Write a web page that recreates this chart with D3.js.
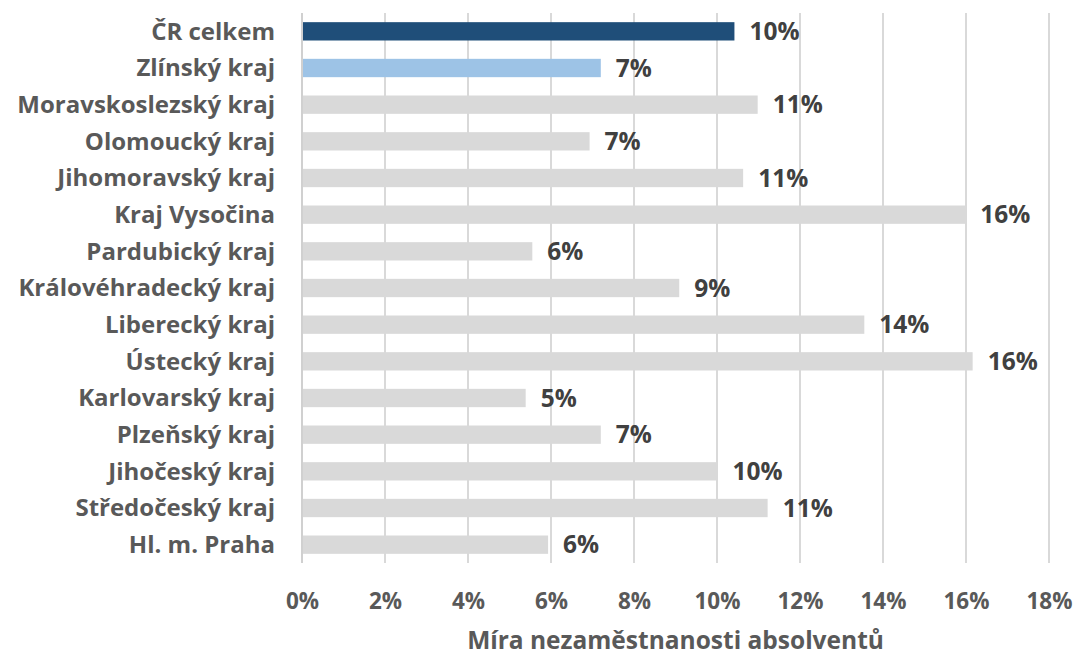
<!DOCTYPE html>
<html><head><meta charset="utf-8">
<script src="https://cdn.jsdelivr.net/npm/d3@7"></script>
<style>
body{margin:0;background:#fff;}
svg text{font-family:"Open Sans","Noto Sans",sans-serif;font-weight:700;}
</style></head>
<body><svg id="c" width="1076" height="657"></svg>
<script>
const categories = ["ČR celkem","Zlínský kraj","Moravskoslezský kraj","Olomoucký kraj","Jihomoravský kraj","Kraj Vysočina","Pardubický kraj","Královéhradecký kraj","Liberecký kraj","Ústecký kraj","Karlovarský kraj","Plzeňský kraj","Jihočeský kraj","Středočeský kraj","Hl. m. Praha"];
const values = [10.42,7.20,10.98,6.93,10.63,15.98,5.55,9.09,13.55,16.16,5.39,7.20,10.01,11.22,5.93];
const colors = ["#1f4e79","#9dc3e6","#d9d9d9","#d9d9d9","#d9d9d9","#d9d9d9","#d9d9d9","#d9d9d9","#d9d9d9","#d9d9d9","#d9d9d9","#d9d9d9","#d9d9d9","#d9d9d9","#d9d9d9"];
const ticks = [0,2,4,6,8,10,12,14,16,18];
const axisTitle = "Míra nezaměstnanosti absolventů";

const svg = d3.select("#c");
const m = {left:302, right:1049, top:13, bottom:563};
const x = d3.scaleLinear().domain([0,18]).range([m.left,m.right]);
const y = d3.scaleBand().domain(categories).range([m.top,m.bottom]).paddingInner(0.5).paddingOuter(0.25);

svg.append("g").selectAll("line").data(ticks.slice(1)).join("line")
  .attr("x1",d=>x(d)).attr("x2",d=>x(d)).attr("y1",m.top).attr("y2",m.bottom)
  .attr("stroke","#d9d9d9").attr("stroke-width",2);

svg.append("g").selectAll("rect").data(categories).join("rect")
  .attr("x",x(0)).attr("y",d=>y(d)).attr("height",y.bandwidth())
  .attr("width",(d,i)=>x(values[i])-x(0)).attr("fill",(d,i)=>colors[i]);

svg.append("line").attr("x1",x(0)).attr("x2",x(0)).attr("y1",m.top).attr("y2",m.bottom)
  .attr("stroke","#d0d0d0").attr("stroke-width",2);

svg.append("g").selectAll("text").data(categories).join("text")
  .attr("x",x(0)-27).attr("y",d=>y(d)+y.bandwidth()/2).attr("dy","0.35em")
  .attr("text-anchor","end").attr("font-size",24).attr("fill","#595959").text(d=>d);

svg.append("g").selectAll("text").data(categories).join("text")
  .attr("x",(d,i)=>x(values[i])+15).attr("y",d=>y(d)+y.bandwidth()/2).attr("dy","0.36em")
  .attr("font-size",24.5).attr("fill","#404040").text((d,i)=>Math.round(values[i])+"%");

const xa = d3.axisBottom(x).tickValues(ticks).tickFormat(d=>d+"%").tickSize(0).tickPadding(0);
const g = svg.append("g").attr("transform",`translate(0,${m.bottom})`).call(xa);
g.select(".domain").remove();
g.selectAll("text").attr("y",30).attr("font-size",22.5).attr("fill","#595959").attr("font-family",null);

svg.append("text").attr("x",(m.left+m.right)/2).attr("y",649).attr("text-anchor","middle")
  .attr("font-size",24.5).attr("fill","#595959").text(axisTitle);
</script></body></html>
